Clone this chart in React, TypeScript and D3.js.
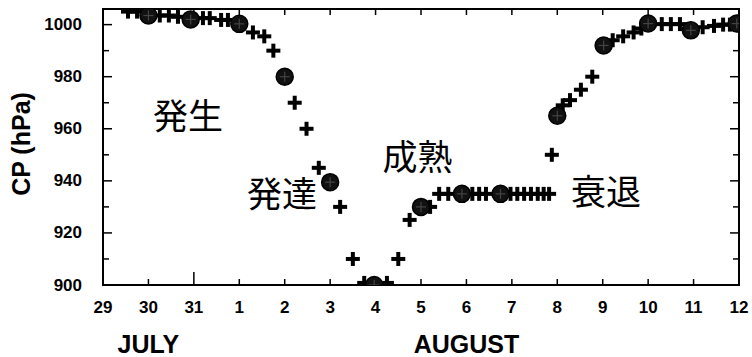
import React from 'react';
import * as d3 from 'd3';

// day offsets from 29 July 00Z, central pressure (hPa)
const crossDays = [0.55, 0.75, 1.25, 1.45, 1.65, 2.2, 2.35, 2.6, 2.75, 3.3, 3.55, 3.75, 4.22, 4.48, 4.75, 5.22, 5.5, 5.75, 6.25, 6.5, 6.75, 7.2, 7.4, 7.6, 8.13, 8.28, 8.43, 8.97, 9.12, 9.27, 9.42, 9.57, 9.7, 9.82, 9.88, 10.12, 10.28, 10.52, 10.77, 11.22, 11.45, 11.68, 11.85, 12.3, 12.5, 12.7, 13.2, 13.45, 13.65, 13.8];
const crossCP = [1005, 1005, 1003.5, 1003.5, 1003, 1002.5, 1002.5, 1001.8, 1001.8, 997, 995.5, 990, 970, 960, 945, 930, 910, 900.8, 900.8, 910, 925, 930, 935, 935, 935, 935, 935, 935, 935, 935, 935, 935, 935, 935, 950, 969, 971, 975, 980, 994, 995.5, 997, 998.5, 1000.2, 1000.2, 1000.2, 999, 999.5, 1000, 1000];
const circleDays = [1.0, 1.93, 3.0, 4.0, 5.0, 5.97, 7.0, 7.9, 8.75, 10.0, 11.02, 12.0, 12.94, 13.95];
const circleCP = [1003.5, 1002, 1000.3, 980, 939.5, 900, 930, 935, 935, 965, 992, 1000.4, 997.8, 1000.4];

const dayLabels = ['29', '30', '31', '1', '2', '3', '4', '5', '6', '7', '8', '9', '10', '11', '12'];
const cpTicks = [900, 920, 940, 960, 980, 1000];
const stageLabels = ['発生', '発達', '成熟', '衰退'];
const stageDays = [1.1, 3.17, 6.15, 10.3];
const stageCP = [966, 936, 950, 936.5];

const W = 752, H = 357;
const m = { left: 103, right: 739, top: 9, bottom: 285 };

export default function App() {
  const x = d3.scaleLinear().domain([0, 14]).range([m.left, m.right]);
  const y = d3.scaleLinear().domain([900, 1006]).range([m.bottom, m.top]);
  const days = d3.range(0, 15);
  const minor = d3.range(900, 1006, 10);
  const font = '"Liberation Sans", Arial, sans-serif';

  return (
    <svg width={W} height={H} style={{ position: 'absolute', left: 0, top: 0, background: '#fff' }}>
      <defs>
        <clipPath id="plot">
          <rect x={m.left} y={m.top} width={m.right - m.left} height={m.bottom - m.top} />
        </clipPath>
      </defs>

      {/* frame */}
      <rect x={m.left} y={m.top} width={m.right - m.left} height={m.bottom - m.top} fill="none" stroke="#000" strokeWidth={2} />

      {/* y ticks, inward on both sides */}
      {minor.map(v => {
        const len = v % 20 === 0 ? 9 : 6;
        return (
          <g key={v} stroke="#000" strokeWidth={1.5}>
            <line x1={m.left} x2={m.left + len} y1={y(v)} y2={y(v)} />
            <line x1={m.right} x2={m.right - len} y1={y(v)} y2={y(v)} />
          </g>
        );
      })}
      {cpTicks.map(v => (
        <text key={v} x={82} y={y(v)} textAnchor="end" dominantBaseline="central"
          fontFamily={font} fontWeight="bold" fontSize={17}>{v}</text>
      ))}

      {/* x ticks */}
      {days.map(d => (
        <g key={d} stroke="#000" strokeWidth={1.5}>
          <line x1={x(d)} x2={x(d)} y1={m.bottom} y2={m.bottom - (d === 2 ? 13 : 6)} />
          <line x1={x(d)} x2={x(d)} y1={m.top} y2={m.top + 6} />
        </g>
      ))}
      {dayLabels.map((t, i) => (
        <text key={t + i} x={x(i)} y={307} textAnchor="middle" dominantBaseline="central"
          fontFamily={font} fontWeight="bold" fontSize={17}>{t}</text>
      ))}
      <text x={x(1)} y={344} textAnchor="middle" dominantBaseline="central"
        fontFamily={font} fontWeight="bold" fontSize={25}>JULY</text>
      <text x={x(8)} y={344} textAnchor="middle" dominantBaseline="central"
        fontFamily={font} fontWeight="bold" fontSize={25}>AUGUST</text>

      <text transform="translate(21,144) rotate(-90)" textAnchor="middle" dominantBaseline="central"
        fontFamily={font} fontWeight="bold" fontSize={25}>CP (hPa)</text>

      {/* stage labels */}
      {stageLabels.map((t, i) => (
        <text key={t} x={x(stageDays[i])} y={y(stageCP[i])} dominantBaseline="central"
          fontFamily='"Noto Sans CJK JP", sans-serif' fontSize={35}>{t}</text>
      ))}

      <g clipPath="url(#plot)">
        {crossDays.map((d, i) => (
          <g key={'c' + i} stroke="#000" strokeWidth={4}>
            <line x1={x(d) - 7} x2={x(d) + 7} y1={y(crossCP[i])} y2={y(crossCP[i])} />
            <line x1={x(d)} x2={x(d)} y1={y(crossCP[i]) - 7} y2={y(crossCP[i]) + 7} />
          </g>
        ))}
        {circleDays.map((d, i) => {
          const cx = x(d), cy = y(circleCP[i]);
          return (
            <g key={'o' + i}>
              <circle cx={cx} cy={cy} r={8.5} fill="#111" stroke="#000" strokeWidth={1.5} />
              <line x1={cx - 5} x2={cx + 5} y1={cy} y2={cy} stroke="#444" strokeWidth={1.2} />
              <line x1={cx} x2={cx} y1={cy - 5} y2={cy + 5} stroke="#444" strokeWidth={1.2} />
            </g>
          );
        })}
      </g>
    </svg>
  );
}
